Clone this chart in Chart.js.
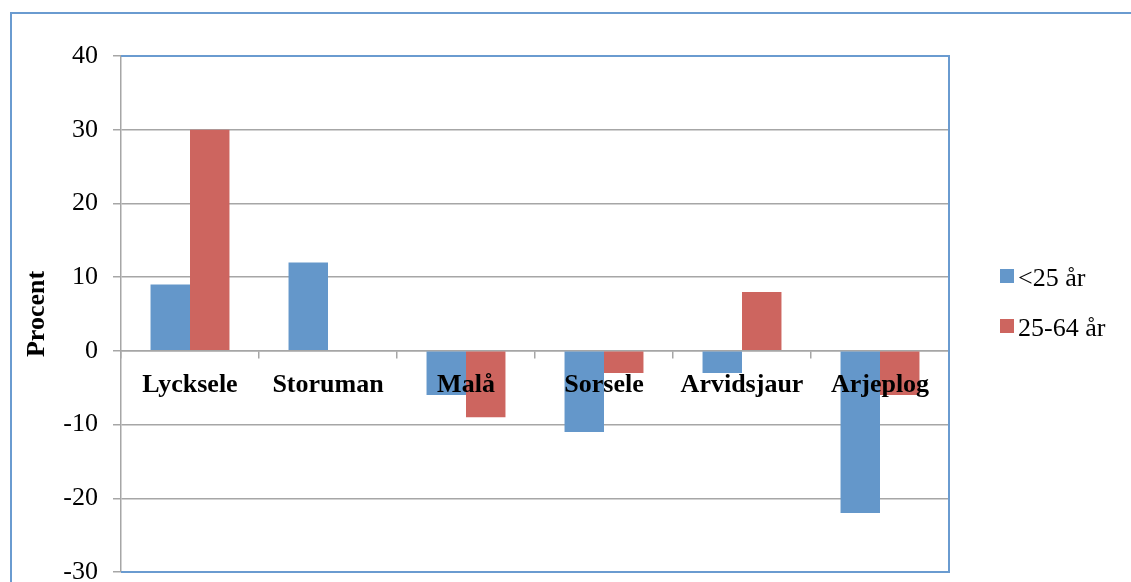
<!DOCTYPE html>
<html>
<head>
<meta charset="utf-8">
<script src="https://cdn.jsdelivr.net/npm/chart.js@4"></script>
<style>
  html, body { margin: 0; padding: 0; background: #fff; }
  #wrap { width: 1131px; height: 582px; position: relative; }
</style>
</head>
<body>
<div id="wrap"><canvas id="chart" width="1131" height="582"></canvas></div>
<script>
const kommuner = ['Lycksele', 'Storuman', 'Malå', 'Sorsele', 'Arvidsjaur', 'Arjeplog'];
const under25 = [9, 12, -6, -11, -3, -22];
const age25to64 = [30, 0, -9, -3, 8, -6];
const seriesNames = ['<25 år', '25-64 år'];
const yTicks = [40, 30, 20, 10, 0, -10, -20, -30];

const serif = '"Liberation Serif", "Times New Roman", serif';
const gridGrey = '#a6a6a6';
const frameBlue = '#6a9bd0';

// outer chart frame + plot area frame (Excel style)
const frames = {
    id: 'frames',
    beforeDatasetsDraw(chart) {
        const { ctx, chartArea: a } = chart;
        ctx.save();
        ctx.strokeStyle = frameBlue;
        ctx.lineWidth = 2;
        ctx.beginPath();
        ctx.moveTo(a.left, a.top);
        ctx.lineTo(a.right, a.top);
        ctx.lineTo(a.right, a.bottom);
        ctx.lineTo(a.left, a.bottom);
        ctx.stroke();
        ctx.restore();
    },
    afterDraw(chart) {
        const { ctx } = chart;
        ctx.save();
        ctx.strokeStyle = frameBlue;
        ctx.lineWidth = 2;
        ctx.beginPath();
        ctx.moveTo(11, 600);
        ctx.lineTo(11, 13);
        ctx.lineTo(1200, 13);
        ctx.stroke();

        // legend
        ctx.font = '26px ' + serif;
        ctx.textBaseline = 'middle';
        ctx.textAlign = 'left';
        chart.data.datasets.forEach((ds, i) => {
            const y = 276 + i * 50;
            ctx.fillStyle = ds.backgroundColor;
            ctx.fillRect(1000, y - 7, 14, 14);
            ctx.fillStyle = '#000';
            ctx.fillText(ds.label, 1018, y + 3);
        });
        ctx.restore();
    }
};

new Chart(document.getElementById('chart'), {
    type: 'bar',
    data: {
        labels: kommuner,
        datasets: [
            { label: seriesNames[0], data: under25, backgroundColor: '#6497ca' },
            { label: seriesNames[1], data: age25to64, backgroundColor: '#cd655f' }
        ]
    },
    options: {
        responsive: false,
        animation: false,
        layout: { padding: { left: 0, top: 56, right: 182, bottom: 10 } },
        datasets: {
            bar: { categoryPercentage: 0.572, barPercentage: 1.0, borderWidth: 0 }
        },
        plugins: {
            legend: { display: false },
            tooltip: { enabled: false }
        },
        scales: {
            x: {
                position: { y: 0 },
                afterFit: s => { s.height = 0; },
                grid: {
                    display: true,
                    drawOnChartArea: false,
                    drawTicks: true,
                    tickLength: 7,
                    offset: true,
                    color: gridGrey,
                    lineWidth: 1.5
                },
                border: { display: true, color: gridGrey, width: 1.5 },
                ticks: {
                    z: 1,
                    font: { family: serif, size: 26, weight: 'bold' },
                    color: '#000',
                    padding: 12,
                    maxRotation: 0,
                    autoSkip: false
                }
            },
            y: {
                min: -30,
                max: 40,
                afterFit: s => { s.width = 121; s.paddingTop = 0; s.paddingBottom = 0; },
                afterBuildTicks: s => { s.ticks = yTicks.map(v => ({ value: v })); },
                grid: {
                    color: gridGrey,
                    lineWidth: 1.5,
                    tickLength: 8
                },
                border: { display: true, color: gridGrey, width: 1.5 },
                ticks: {
                    font: { family: serif, size: 26 },
                    color: '#000',
                    padding: 15
                },
                title: {
                    display: true,
                    text: 'Procent',
                    font: { family: serif, size: 26, weight: 'bold' },
                    color: '#000',
                    padding: { top: 22, bottom: 0 }
                }
            }
        }
    },
    plugins: [frames]
});
</script>
</body>
</html>
